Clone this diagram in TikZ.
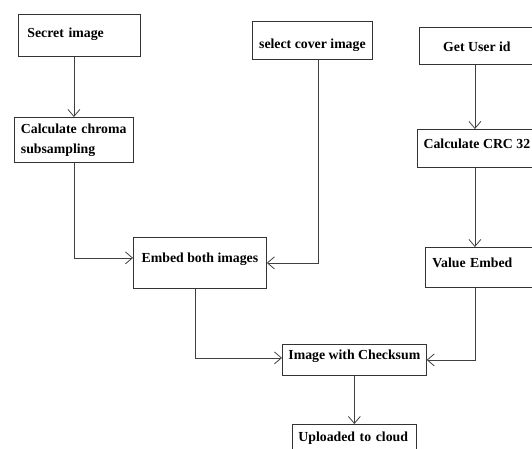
\documentclass[tikz,border=0pt]{standalone}
\usepackage{fontspec}
\setmainfont{Liberation Serif}
\usepackage{tikz}
\usetikzlibrary{
    calc,
    arrows.meta
}
\newcommand{\boxfont}{\fontsize{13.8}{20}\selectfont\bfseries}
\tikzset{
    flowbox/.style={draw=black!80, line width=0.8pt, font=\boxfont, anchor=north west, inner ysep=0pt, inner xsep=6pt},
    flowarrow/.style={draw=black!75, line width=0.8pt, -{Straight Barb[length=7pt,width=12pt]}}
}

\begin{document}
\begin{tikzpicture}[x=1pt, y=-1pt]
        \clip (0,0) rectangle (532,449);

        \draw (18,14) node[flowbox, inner xsep=9pt, text width=104pt, align=left, text height=23pt, text depth=19pt](secret){Secret image};
        \draw (14,117) node[flowbox, inner xsep=6.5pt, text width=106pt, align=left, text height=16pt, text depth=29pt](chroma){Calculate chroma\\subsampling};
        \draw (252,21) node[flowbox, minimum width=120pt, text height=27pt, text depth=11pt](cover){select cover image};
        \draw (419,27) node[flowbox, minimum width=115pt, text height=24pt, text depth=13pt](userid){Get User id};
        \draw (417,129) node[flowbox, minimum width=119pt, text height=19pt, text depth=19pt](crc){Calculate CRC 32};

        \draw (133,237) node[flowbox, minimum width=133pt, text height=25pt, text depth=26pt](embed){Embed both images};
        \draw (425,247) node[flowbox, inner xsep=7pt, text width=101pt, align=left, text height=20pt, text depth=20pt](value){Value Embed};
        \draw (282,344) node[flowbox, minimum width=140pt, text height=15pt, text depth=16pt](checksum){Image with Checksum};
        \draw (292,424) node[flowbox, inner xsep=6pt, text width=112pt, align=left, text height=17pt, text depth=20pt](upload){Uploaded to cloud};

        \draw[flowarrow] (secret.south -| chroma.north) -- (chroma.north);
        \draw[flowarrow] (chroma.south) |- ([yshift=5pt]embed.west);
        \draw[flowarrow] ([xshift=6pt]cover.south) |- (embed.east);
        \draw[flowarrow] ([xshift=-2pt]userid.south) -- ([xshift=-2pt]crc.north);
        \draw[flowarrow] ([xshift=-2pt]crc.south) -- ([xshift=-2pt]crc.south |- value.north);
        \draw[flowarrow] ([xshift=-5pt]embed.south) |- ([yshift=2pt]checksum.west);
        \draw[flowarrow] (value.south -| crc.south) ++(-2,0) |- (checksum.east);
        \draw[flowarrow] (checksum.south) -- (checksum.south |- upload.north);
\end{tikzpicture}
\end{document}
